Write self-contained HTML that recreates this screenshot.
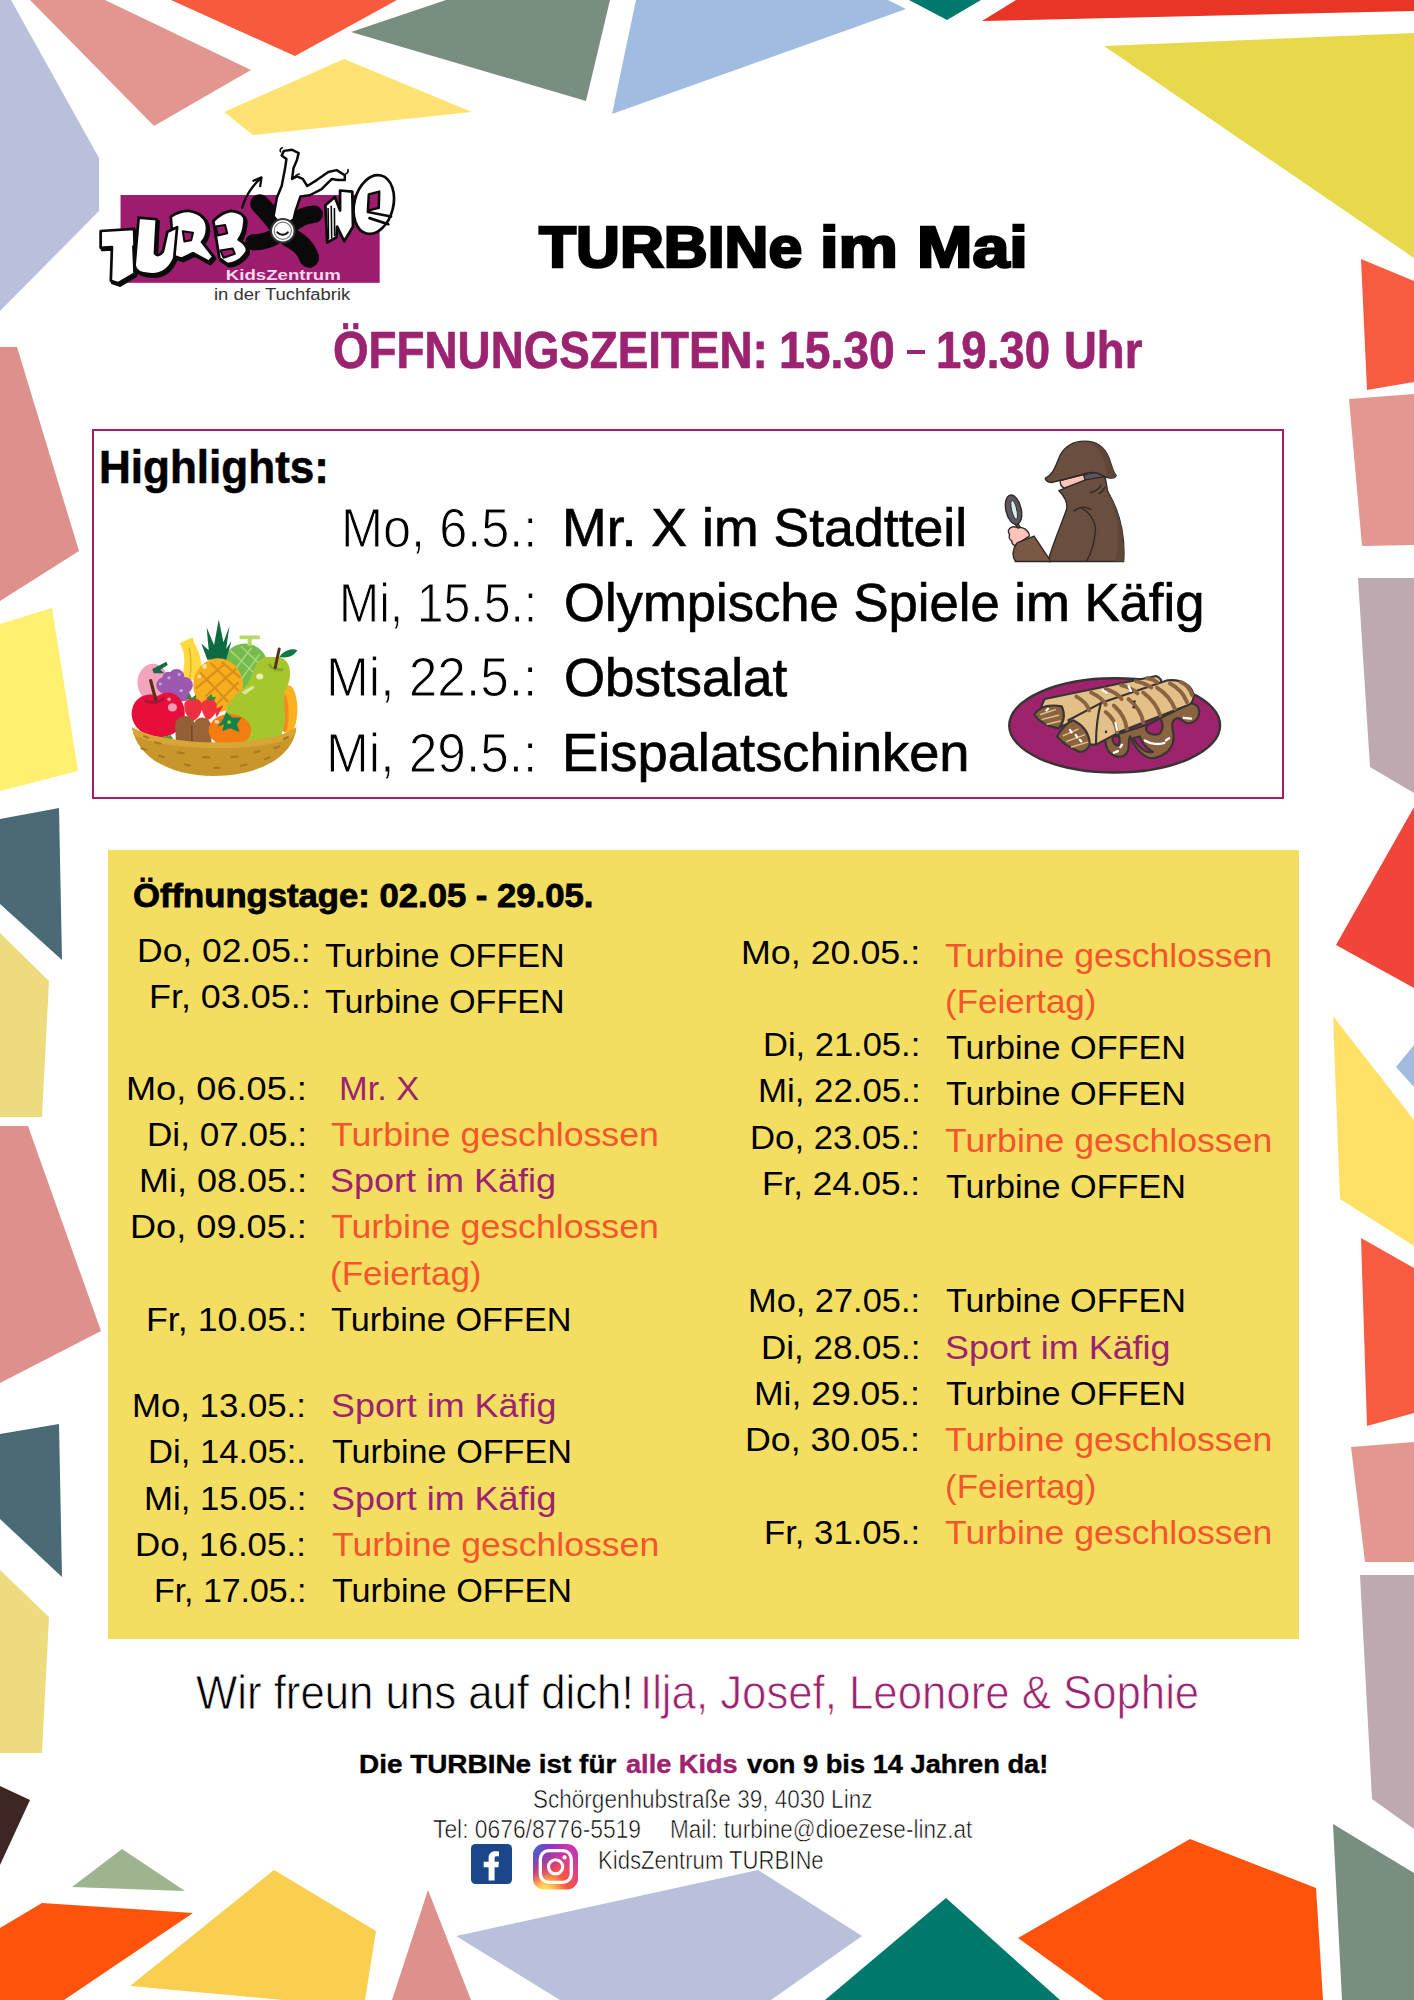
<!DOCTYPE html>
<html lang="de"><head><meta charset="utf-8">
<title>TURBINe im Mai</title>
<style>
html,body{margin:0;padding:0;background:#fff;}
body{width:1414px;height:2000px;position:relative;overflow:hidden;font-family:"Liberation Sans",sans-serif;}
.bg{position:absolute;left:0;top:0;}
.hbox{position:absolute;left:92px;top:429px;width:1188px;height:366px;border:2px solid #a01f6d;background:#fff;}
.ybox{position:absolute;left:108px;top:849.5px;width:1191px;height:789px;background:#f4de62;}
.t{position:absolute;white-space:nowrap;line-height:1;transform-origin:0 0;margin:0;padding:0;}
.ill{position:absolute;}
</style></head><body>
<svg class="bg" width="1414" height="2000" viewBox="0 0 1414 2000">
<polygon fill="#b8c0dc" points="0,0 11,0 99,158 99,211 0,311"/>
<polygon fill="#e29690" points="30,0 105,0 251,70 154,126"/>
<polygon fill="#f85a3e" points="171,0 397,0 295,56"/>
<polygon fill="#ffe272" points="344,59 472,112 253,135 224,112"/>
<polygon fill="#7a8e80" points="351,32 446,0 610,0 586,101"/>
<polygon fill="#a0bce0" points="636,0 888,0 906,9 612,114"/>
<polygon fill="#00796d" points="909,0 981,0 947,20"/>
<polygon fill="#e93525" points="982,21 1016,0 1414,0 1414,11"/>
<polygon fill="#e8d94c" points="1104,46 1414,33 1414,258"/>
<polygon fill="#f85c40" points="1361,259 1414,281 1414,382 1367,390"/>
<polygon fill="#e29891" points="1349,399 1414,394 1414,545 1362,546"/>
<polygon fill="#bcaab0" points="1358,578 1414,578 1414,793 1370,767"/>
<polygon fill="#f04538" points="1414,807 1414,988 1336,945"/>
<polygon fill="#a0bce0" points="1414,1045 1396,1067 1414,1087"/>
<polygon fill="#ffe168" points="1333,1016 1414,1120 1414,1246 1340,1199"/>
<polygon fill="#f85c40" points="1361,1238 1414,1268 1414,1413 1367,1426"/>
<polygon fill="#e29891" points="1351,1447 1414,1442 1414,1562 1365,1562"/>
<polygon fill="#bcaab0" points="1360,1575 1414,1575 1414,1829 1372,1799"/>
<polygon fill="#7a8e80" points="1333,1824 1414,1873 1414,2000 1342,2000"/>
<polygon fill="#ff530d" points="1018,1938 1190,1839 1316,1888 1323,2000 1104,2000"/>
<polygon fill="#00796d" points="946,1898 1060,2000 825,2000"/>
<polygon fill="#b8c0dc" points="456,1936 758,1870 862,1936 771,2000 560,2000"/>
<polygon fill="#de908c" points="428,1890 471,2000 392,2000"/>
<polygon fill="#facf50" points="274,1870 376,1931 365,2000 283,2000 130,1986"/>
<polygon fill="#ff530d" points="42,1903 193,1913 64,2000 0,2000 0,1928"/>
<polygon fill="#9eb48e" points="72,1887 122,1849 185,1891"/>
<polygon fill="#3e2723" points="0,1786 30,1800 0,1865"/>
<polygon fill="#ecdc7e" points="0,1570 49,1617 42,1753 0,1753"/>
<polygon fill="#4a6a75" points="0,1434 59,1424 62,1577 0,1519"/>
<polygon fill="#de908c" points="0,1126 28,1126 101,1331 0,1383"/>
<polygon fill="#ecdc7e" points="0,933 49,981 42,1117 0,1117"/>
<polygon fill="#4a6a75" points="0,819 59,808 62,960 0,904"/>
<polygon fill="#fff070" points="0,624 52,608 78,771 0,791"/>
<polygon fill="#de908c" points="0,347 17,347 79,551 0,601"/>
</svg>
<div class="hbox"></div>
<div class="ybox"></div>
<div style="position:absolute;left:906.9px;top:350.2px;width:17.8px;height:4.2px;background:#9b236f"></div>
<svg class="ill" style="left:90px;top:140px" width="320" height="170" viewBox="0 0 1414 751">
<rect x="135" y="243" width="1145" height="388" fill="#9d1c6e"/>
<!-- arrow -->
<path d="M672 300 C 690 240 720 200 752 172 M722 180 L758 165 L752 204" fill="none" stroke="#0a0a0a" stroke-width="10" stroke-linecap="round" stroke-linejoin="round"/>
<!-- propeller blades -->
<g fill="none" stroke="#0a0a0a" stroke-linecap="round" stroke-linejoin="round">
<path d="M835 385 C 810 345 785 320 750 282" stroke-width="84"/>
<path d="M830 420 C 790 445 760 452 722 452" stroke-width="72"/>
<path d="M880 430 C 925 450 955 480 968 520" stroke-width="88"/>
<path d="M885 375 C 920 345 950 330 990 328" stroke-width="78"/>
</g>
<!-- figure -->
<path d="M811 337 L826 254 L847 203 L862 125 L868 84 L847 68 L857 48 L893 43 L922 58 L914 89 L899 125 L893 172 L914 161 L940 172 L960 203 L1002 177 L1053 141 L1090 133 L1126 156 L1126 177 L1095 177 L1069 172 L1022 218 L971 244 L930 249 L909 311 L899 352 L850 380 Z" fill="#fff" stroke="#0a0a0a" stroke-width="11" stroke-linejoin="round"/>
<path d="M842 52 C 838 44 842 36 850 34 M1130 150 C 1138 146 1142 138 1140 130 M893 172 C 905 160 915 150 925 150" fill="none" stroke="#0a0a0a" stroke-width="7" stroke-linecap="round"/>
<!-- hub -->
<circle cx="852" cy="401" r="52" fill="#fff" stroke="#333" stroke-width="9"/>
<circle cx="852" cy="401" r="38" fill="none" stroke="#777" stroke-width="5"/>
<path d="M828 408 C 842 424 864 420 874 408" fill="none" stroke="#111" stroke-width="9" stroke-linecap="round"/>
<!-- TURB shadow -->
<g fill="#0a0a0a" stroke="#0a0a0a" stroke-width="14" stroke-linejoin="round" transform="translate(7,9)">
<path d="M47 402 L195 393 L197 468 L192 470 L197 590 L125 633 L92 622 L97 473 L47 476 Z"/>
<path d="M215 343 L295 350 L287 500 Q300 520 322 493 L342 405 L385 385 L372 523 Q340 600 262 593 Q200 590 197 553 Z"/>
<path d="M357 338 Q400 310 440 313 Q520 330 517 393 Q515 430 495 450 L545 515 L525 538 L455 500 L405 525 L370 513 Z"/>
<path d="M545 358 Q580 320 622 313 Q690 320 682 363 Q680 410 657 440 Q700 465 692 495 Q660 545 607 548 L572 523 Z"/>
</g>
<!-- TURB -->
<g fill="#fff" stroke="#0a0a0a" stroke-width="12" stroke-linejoin="round">
<path d="M545 358 Q580 320 622 313 Q690 320 682 363 Q680 410 657 440 Q700 465 692 495 Q660 545 607 548 L572 523 Z"/>
<path d="M357 338 Q400 310 440 313 Q520 330 517 393 Q515 430 495 450 L545 515 L525 538 L455 500 L405 525 L370 513 Z"/>
<path d="M215 343 L295 350 L287 500 Q300 520 322 493 L342 405 L385 385 L372 523 Q340 600 262 593 Q200 590 197 553 Z"/>
<path d="M47 402 L195 393 L197 468 L192 470 L197 590 L125 633 L92 622 L97 473 L47 476 Z"/>
</g>
<g fill="#9d1c6e" stroke="#0a0a0a" stroke-width="9" stroke-linejoin="round">
<path d="M410 403 L455 410 L447 443 L417 448 Z"/>
<path d="M555 382 L597 376 L606 412 L565 422 Z"/>
<path d="M576 488 L630 479 L640 503 L590 520 Z"/>
</g>
<!-- N e -->
<g fill="#fff" stroke="#0a0a0a" stroke-width="12" stroke-linejoin="round">
<ellipse cx="1254" cy="285" rx="86" ry="132" transform="rotate(14 1254 285)"/>
<path d="M1040 288 L1082 252 L1105 311 L1105 223 L1159 228 L1162 383 L1123 447 L1092 383 L1089 430 L1048 453 Z"/>
</g>
<path d="M1232 240 L1278 228 L1276 300 L1228 312 Z" fill="#9d1c6e" stroke="#0a0a0a" stroke-width="11" stroke-linejoin="round"/>
<path d="M1228 318 L1330 338 M1235 345 L1318 372" fill="none" stroke="#0a0a0a" stroke-width="12" stroke-linecap="round"/>
<path d="M1052 300 L1054 440 M1066 290 L1068 435 M1080 300 L1081 425" stroke="#0a0a0a" stroke-width="7"/>
<text x="600" y="617" font-family="Liberation Sans, sans-serif" font-weight="bold" font-size="66" fill="#f7d9ec" textLength="508" lengthAdjust="spacingAndGlyphs">KidsZentrum</text>
<text x="548" y="705" font-family="Liberation Sans, sans-serif" font-size="70" fill="#333" textLength="602" lengthAdjust="spacingAndGlyphs">in der Tuchfabrik</text>
</svg>

<svg class="ill" style="left:120px;top:610px" width="190" height="180" viewBox="0 0 1414 1340">
<!-- peach -->
<ellipse cx="245" cy="540" rx="115" ry="140" fill="#f3a3bb"/>
<path d="M240 440 L345 385 L355 410 L300 445 L330 470 L250 470 Z" fill="#1a6a48"/>
<!-- banana -->
<path d="M445 245 L540 205 L555 250 C 600 330 620 420 600 520 L450 520 C 490 420 490 330 445 245 Z" fill="#ffd93f"/>
<path d="M515 280 C 530 360 530 440 520 510" stroke="#e8b020" stroke-width="10" fill="none"/>
<!-- melon -->
<circle cx="930" cy="420" r="170" fill="#76bb4d"/>
<path d="M890 190 h150 v28 h-60 v50 h-30 v-50 h-60 z" fill="#b5d86a"/>
<g stroke="#a6d67a" stroke-width="12" fill="none"><path d="M820 300 L1010 480 M900 270 L1060 420 M980 280 L850 450 M1040 330 L900 520"/></g>
<!-- pineapple crown -->
<path d="M735 70 L770 240 L815 120 L790 290 L830 230 L790 370 L650 370 L605 250 L660 300 L645 130 L700 260 Z" fill="#0d6a41"/>
<!-- pineapple body -->
<ellipse cx="730" cy="560" rx="185" ry="200" fill="#f8ae1f"/>
<g stroke="#d9901a" stroke-width="16" fill="none" stroke-linecap="round"><path d="M600 470 L800 680 M680 400 L880 600 M760 390 L890 500 M860 440 L640 640 M780 400 L570 580 M880 540 L720 700"/></g>
<circle cx="630" cy="420" r="18" fill="#fde3a0"/><circle cx="590" cy="495" r="14" fill="#fde3a0"/>
<!-- orange slice right -->
<ellipse cx="1255" cy="740" rx="65" ry="180" fill="#fbb01e"/>
<ellipse cx="1225" cy="770" rx="30" ry="140" fill="#f58a1f"/>
<!-- grapes -->
<g fill="#9b59b0"><circle cx="330" cy="560" r="60"/><circle cx="420" cy="500" r="60"/><circle cx="480" cy="560" r="62"/><circle cx="400" cy="600" r="60"/><circle cx="470" cy="630" r="50"/><circle cx="360" cy="505" r="45"/></g>
<g fill="#c9a3dc"><circle cx="365" cy="505" r="12"/><circle cx="440" cy="480" r="12"/><circle cx="300" cy="550" r="11"/><circle cx="455" cy="600" r="12"/></g>
<!-- pear -->
<path d="M1180 350 C 1290 370 1280 520 1230 600 C 1200 700 1260 800 1200 930 C 1150 1010 960 1010 860 960 C 740 880 760 700 900 600 C 1000 530 980 380 1080 350 Z" fill="#a5c62c"/>
<path d="M1110 400 C 1130 450 1190 450 1215 440" stroke="#86aa22" stroke-width="22" fill="none"/>
<path d="M1155 430 L1185 290" stroke="#5a2d1a" stroke-width="22" stroke-linecap="round"/>
<path d="M1185 350 C 1230 290 1290 285 1320 300 C 1290 350 1240 360 1185 350 Z" fill="#0d7a45"/>
<ellipse cx="1040" cy="495" rx="26" ry="22" fill="#e6f0b0"/><path d="M905 610 L990 560 L1000 580 L930 630 Z" fill="#d4e79a"/>
<!-- strawberries -->
<path d="M480 690 C 520 640 590 650 610 700 C 620 760 580 810 540 830 C 500 800 470 750 480 690 Z" fill="#ee2f3f"/>
<path d="M610 690 C 650 640 720 660 720 720 C 715 780 680 810 650 820 C 620 790 600 740 610 690 Z" fill="#f0323f"/>
<path d="M700 740 L770 710 L720 800 Z" fill="#ee2f3f"/>
<path d="M490 660 L520 625 L535 655 L565 630 L570 670 Z M640 660 L680 625 L690 650 L715 645 L700 675 Z" fill="#2e8a3c"/>
<!-- apple -->
<path d="M280 640 C 400 560 500 680 480 800 C 460 920 340 960 260 940 C 140 930 70 830 90 740 C 110 640 210 610 280 640 Z" fill="#e60f3a"/>
<path d="M185 675 C 240 700 290 690 330 655" stroke="#a81438" stroke-width="20" fill="none"/>
<path d="M265 665 L228 525" stroke="#5a2d1a" stroke-width="24" stroke-linecap="round"/>
<ellipse cx="390" cy="725" rx="34" ry="30" fill="#f59ab5"/><circle cx="365" cy="665" r="13" fill="#f59ab5"/>
<!-- leaves bottom -->
<path d="M300 950 L380 930 L400 970 L320 975 Z" fill="#5b9a38"/>
<!-- kiwis -->
<path d="M410 850 C 430 770 540 770 555 850 L550 990 L415 970 Z" fill="#935f36"/>
<path d="M540 870 C 560 780 660 780 680 860 L680 1000 L545 1000 Z" fill="#996538"/>
<path d="M535 860 L535 990" stroke="#6d4324" stroke-width="10"/>
<!-- persimmon -->
<ellipse cx="818" cy="895" rx="158" ry="120" fill="#f47d12"/>
<path d="M790 760 L835 800 L905 800 L870 850 L890 910 L820 880 L760 900 L775 850 L725 870 L770 810 Z" fill="#16814a"/>
<circle cx="812" cy="835" r="14" fill="#9ccb3c"/><ellipse cx="720" cy="832" rx="18" ry="14" fill="#fbd5a8"/>
<!-- basket -->
<path d="M90 872 C 300 1010 1100 1040 1312 872 C 1300 1080 1050 1235 700 1235 C 350 1235 120 1080 90 872 Z" fill="#c8962a"/>
<path d="M90 872 C 300 1010 1100 1040 1312 872 C 1310 900 1305 920 1300 935 C 1090 1070 320 1050 100 930 Z" fill="#d7a636"/>
<g stroke="#a97a1e" stroke-width="16" stroke-linecap="round"><path d="M160 1030 l35 10 M260 985 l40 10 M290 1085 l35 12 M430 1060 l45 6 M480 1150 l40 8 M620 1095 l45 2 M700 1175 l40 0 M830 1095 l45 -4 M900 1160 l40 -8 M1000 1060 l40 -10 M1080 1110 l35 -14 M1150 1030 l35 -14 M1220 960 l30 -14 M180 940 l30 12"/></g>
</svg>

<svg class="ill" style="left:990px;top:430px" width="150" height="140" viewBox="0 0 1414 1320">
<g stroke="#2f2a28" stroke-width="13" stroke-linejoin="round" stroke-linecap="round">
<!-- coat -->
<path d="M650 572 C 700 620 735 690 722 745 C 690 850 600 1050 545 1240 L1260 1240 C 1275 1000 1230 780 1110 580 L1085 440 L900 430 L690 555 Z" fill="#6b4f3e"/>
<path d="M1085 470 C 1100 560 1190 760 1200 900 C 1215 1050 1200 1150 1180 1240 L1260 1240 C 1275 1000 1230 780 1110 580 Z" fill="#5f4636" stroke="none"/>
<!-- face -->
<path d="M662 478 L885 420 L900 470 L700 548 C 668 532 660 505 662 478 Z" fill="#ffc3ba"/>
<path d="M882 425 L1000 400 L1085 440 L897 470 Z" fill="#5b5660"/>
<!-- hat -->
<path d="M520 455 C 600 420 620 330 660 240 C 720 130 820 105 890 105 C 1000 105 1080 160 1120 260 C 1150 340 1160 400 1190 430 C 1180 458 1140 462 1080 440 C 1020 398 960 392 900 410 C 800 440 680 470 580 495 C 545 490 525 478 520 455 Z" fill="#6b4f3e"/>
<path d="M930 125 C 1040 150 1090 300 1110 440 L1140 455 C 1165 455 1182 448 1190 430 C 1160 400 1150 340 1120 260 C 1085 170 1020 120 930 125 Z" fill="#5f4636" stroke="none"/>
<!-- folds -->
<path d="M945 592 C 990 580 1030 550 1048 520 M1030 598 C 1055 585 1075 560 1082 540 M790 765 C 840 725 900 720 950 750 M870 742 C 960 790 1010 900 990 980 C 980 1080 950 1170 910 1235" fill="none"/>
<!-- hand -->
<path d="M205 915 C 170 930 165 960 185 985 C 175 1010 185 1035 205 1045 C 205 1070 215 1085 235 1090 L370 1000 C 375 970 340 930 300 920 C 270 925 240 905 205 915 Z" fill="#ffc3ba"/>
<!-- sleeve -->
<path d="M240 1240 L575 1240 L415 1000 L255 1065 C 210 1120 205 1190 240 1240 Z" fill="#7a5942"/>
<!-- magnifier -->
<path d="M252 870 L285 915 L262 925 L232 880 Z" fill="#5b5660"/>
<ellipse cx="222" cy="752" rx="72" ry="142" transform="rotate(-13 222 752)" fill="#5b5660"/>
<ellipse cx="228" cy="752" rx="24" ry="92" transform="rotate(-13 228 752)" fill="#d6eeee" stroke-width="8"/>
</g>
</svg>

<svg class="ill" style="left:1000px;top:660px" width="230" height="130" viewBox="0 0 1414 799">
<ellipse cx="705" cy="402" rx="648" ry="290" fill="#9d246c" stroke="#383434" stroke-width="15"/>
<g stroke="#383434" stroke-width="13" stroke-linejoin="round" stroke-linecap="round">
<!-- sauce drips -->
<path d="M650 480 C 640 560 700 610 760 590 C 810 560 780 500 800 470 C 840 560 900 620 960 600 C 1060 570 1080 500 1060 420 C 1050 370 1090 340 1120 370 C 1160 410 1220 380 1225 320 C 1225 280 1190 260 1160 270 L900 400 Z" fill="#8a6341"/>
<path d="M905 400 C 880 440 930 470 980 455 C 1010 420 1000 380 985 360 Z" fill="#9d246c"/>
<path d="M820 480 C 850 540 900 575 940 565 C 900 540 870 510 860 470 Z" fill="#9d246c"/>
<path d="M690 470 C 690 510 710 530 730 525 C 740 500 735 480 730 465 Z" fill="#9d246c"/>
<!-- back crepe -->
<path d="M275 240 L960 98 C 990 110 1000 130 985 150 L620 270 L400 400 C 340 420 300 410 275 390 C 240 330 250 280 275 240 Z" fill="#e4c089"/>
<path d="M210 335 C 240 290 300 270 380 285 C 400 330 395 380 360 420 C 300 410 240 380 210 335 Z" fill="#8a6341"/>
<!-- front crepe -->
<path d="M620 265 L1030 125 C 1120 115 1190 160 1190 230 C 1185 260 1170 275 1150 280 L740 440 L590 520 C 540 470 560 330 620 265 Z" fill="#e4c089"/>
<path d="M420 370 L620 265 C 600 340 590 430 590 520 L545 520 C 500 480 450 420 420 370 Z" fill="#e4c089"/>
<path d="M350 470 C 380 420 420 380 450 370 C 510 400 550 450 552 520 C 540 550 520 565 490 565 C 430 540 380 510 350 470 Z" fill="#8a6341"/>
</g>
<!-- stripes -->
<g stroke="#8a6341" stroke-width="24" fill="none" stroke-linecap="round">
<path d="M470 225 C 515 250 540 280 548 310 M560 200 C 610 225 640 250 650 275 M650 178 C 700 195 730 215 748 240 M745 155 C 795 168 825 185 845 205 M835 130 C 875 138 905 152 930 168 M905 112 C 930 116 950 124 965 135"/>
<path d="M650 320 C 695 355 715 400 720 445 M700 280 C 755 330 775 385 780 425 M790 240 C 850 290 875 340 880 385 M880 200 C 940 245 970 290 985 340 M965 170 C 1020 205 1055 250 1075 300 M1045 145 C 1095 170 1130 210 1150 260 M1110 135 C 1145 150 1170 180 1180 215"/>
</g>
<g stroke="#e4c089" stroke-width="9" fill="none" stroke-linecap="round">
<path d="M250 335 L340 305 M260 365 L360 340 M290 395 L370 375 M390 465 L480 425 M410 500 L520 460 M440 535 L540 505"/>
</g>
<g stroke="#fff" stroke-width="14" stroke-linecap="round" fill="none">
<path d="M630 185 L655 200 M790 160 L805 190 M710 385 L720 430 M1130 355 L1175 360 M890 495 C 930 520 980 520 1010 510 M1020 495 L1040 480 M700 570 L725 560 M740 535 L750 520 M430 430 L440 445 M465 460 L475 475 M490 490 L500 500 M285 310 L295 300"/>
</g>
<g fill="#383434"><circle cx="827" cy="255" r="8"/><circle cx="822" cy="290" r="8"/><circle cx="652" cy="442" r="8"/></g>
</svg>

<svg class="ill" style="left:471px;top:1844px" width="41" height="40" viewBox="0 0 41 40">
<rect width="41" height="40" rx="4.5" fill="#1a4789"/>
<path fill="#fff" d="M17.6 36.4V23.3H12.7V17.8H17.6V14C17.6 9.5 20.3 7.2 24.3 7.2C26 7.2 27.4 7.35 28 7.4V12.3H25.5C23.9 12.3 23.6 13.1 23.6 14.3V17.8H28L27.3 23.3H23.6V36.4Z"/>
</svg>
<svg class="ill" style="left:533px;top:1844px" width="45" height="45.5" viewBox="0 0 45 45.5">
<defs>
<radialGradient id="ig1" cx="0.27" cy="1.05" r="1.0"><stop offset="0" stop-color="#ffdd55"/><stop offset="0.1" stop-color="#ffdd55"/><stop offset="0.5" stop-color="#ff543e"/><stop offset="1" stop-color="#c837ab"/></radialGradient>
<radialGradient id="ig2" cx="-0.1" cy="0.05" r="0.85"><stop offset="0" stop-color="#3771c8"/><stop offset="0.13" stop-color="#3771c8"/><stop offset="1" stop-color="#6600ff" stop-opacity="0"/></radialGradient>
</defs>
<rect width="45" height="45.5" rx="11" fill="url(#ig1)"/>
<rect width="45" height="45.5" rx="11" fill="url(#ig2)"/>
<rect x="7.3" y="6.7" width="31" height="31.6" rx="8.5" fill="none" stroke="#fff" stroke-width="3.3"/>
<circle cx="22.6" cy="22.8" r="7.1" fill="none" stroke="#fff" stroke-width="3.1"/>
<circle cx="31.5" cy="13.4" r="2.1" fill="#fff"/>
</svg>

<div class="t" id="t0" style="left:538.81px;top:218.4px;font-size:58px;font-weight:bold;color:#000;-webkit-text-stroke:2.5px #000;transform:scaleX(1.0472);">TURBINe</div>
<div class="t" id="t1" style="left:820.33px;top:218.4px;font-size:58px;font-weight:bold;color:#000;-webkit-text-stroke:2.5px #000;transform:scaleX(1.1515);">im</div>
<div class="t" id="t2" style="left:916.99px;top:218.4px;font-size:58px;font-weight:bold;color:#000;-webkit-text-stroke:2.5px #000;transform:scaleX(1.1464);">Mai</div>
<div class="t" id="t3" style="left:332.93px;top:324.9px;font-size:51.5px;font-weight:bold;color:#9b236f;-webkit-text-stroke:0.7px #9b236f;transform:scaleX(0.8888);">ÖFFNUNGSZEITEN:</div>
<div class="t" id="t4" style="left:779.22px;top:324.9px;font-size:51.5px;font-weight:bold;color:#9b236f;-webkit-text-stroke:0.7px #9b236f;transform:scaleX(0.8981);">15.30</div>
<div class="t" id="t5" style="left:936.06px;top:324.9px;font-size:51.5px;font-weight:bold;color:#9b236f;-webkit-text-stroke:0.7px #9b236f;transform:scaleX(0.8845);">19.30</div>
<div class="t" id="t6" style="left:1063.76px;top:324.9px;font-size:51.5px;font-weight:bold;color:#9b236f;-webkit-text-stroke:0.7px #9b236f;transform:scaleX(0.8836);">Uhr</div>
<div class="t" id="t7" style="left:99.17px;top:443.4px;font-size:47px;font-weight:bold;color:#000;-webkit-text-stroke:0.6px #000;transform:scaleX(0.9371);">Highlights:</div>
<div class="t" id="t8" style="left:340.80px;top:499.7px;font-size:56px;color:#000;-webkit-text-stroke:1.1px #fff;transform:scaleX(0.9010);">Mo, 6.5.:</div>
<div class="t" id="t9" style="left:562.33px;top:501.1px;font-size:53.3px;color:#000;-webkit-text-stroke:0.7px #000;transform:scaleX(1.0059);">Mr. X im Stadtteil</div>
<div class="t" id="t10" style="left:338.68px;top:574.6px;font-size:56px;color:#000;-webkit-text-stroke:1.1px #fff;transform:scaleX(0.8606);">Mi, 15.5.:</div>
<div class="t" id="t11" style="left:564.37px;top:576.0px;font-size:53.3px;color:#000;-webkit-text-stroke:0.7px #000;transform:scaleX(0.9872);">Olympische Spiele im Käfig</div>
<div class="t" id="t12" style="left:325.82px;top:649.1px;font-size:56px;color:#000;-webkit-text-stroke:1.1px #fff;transform:scaleX(0.9177);">Mi, 22.5.:</div>
<div class="t" id="t13" style="left:564.36px;top:650.5px;font-size:53.3px;color:#000;-webkit-text-stroke:0.7px #000;transform:scaleX(0.9910);">Obstsalat</div>
<div class="t" id="t14" style="left:325.82px;top:724.6px;font-size:56px;color:#000;-webkit-text-stroke:1.1px #fff;transform:scaleX(0.9177);">Mi, 29.5.:</div>
<div class="t" id="t15" style="left:562.28px;top:726.0px;font-size:53.3px;color:#000;-webkit-text-stroke:0.7px #000;transform:scaleX(1.0190);">Eispalatschinken</div>
<div class="t" id="t16" style="left:132.76px;top:880.4px;font-size:32.7px;font-weight:bold;color:#000;-webkit-text-stroke:0.8px #000;transform:scaleX(1.0605);">Öffnungstage: 02.05 - 29.05.</div>
<div class="t" id="t17" style="left:136.57px;top:933.7px;font-size:33.4px;color:#000;transform:scaleX(1.0630);">Do, 02.05.:</div>
<div class="t" id="t18" style="left:324.80px;top:938.7px;font-size:33.4px;color:#000;transform:scaleX(1.0229);">Turbine OFFEN</div>
<div class="t" id="t19" style="left:148.65px;top:979.7px;font-size:33.4px;color:#000;transform:scaleX(1.0749);">Fr, 03.05.:</div>
<div class="t" id="t20" style="left:324.80px;top:985.1px;font-size:33.4px;color:#000;transform:scaleX(1.0229);">Turbine OFFEN</div>
<div class="t" id="t21" style="left:125.84px;top:1071.6px;font-size:33.4px;color:#000;transform:scaleX(1.0825);">Mo, 06.05.:</div>
<div class="t" id="t22" style="left:338.94px;top:1071.6px;font-size:33.4px;color:#9b236f;transform:scaleX(1.0298);">Mr. X</div>
<div class="t" id="t23" style="left:146.50px;top:1117.8px;font-size:33.4px;color:#000;transform:scaleX(1.0519);">Di, 07.05.:</div>
<div class="t" id="t24" style="left:330.80px;top:1117.8px;font-size:33.4px;color:#f4552a;transform:scaleX(1.0684);">Turbine geschlossen</div>
<div class="t" id="t25" style="left:138.64px;top:1164.1px;font-size:33.4px;color:#000;transform:scaleX(1.0777);">Mi, 08.05.:</div>
<div class="t" id="t26" style="left:330.42px;top:1164.1px;font-size:33.4px;color:#9b236f;transform:scaleX(1.0781);">Sport im Käfig</div>
<div class="t" id="t27" style="left:129.83px;top:1210.3px;font-size:33.4px;color:#000;transform:scaleX(1.0825);">Do, 09.05.:</div>
<div class="t" id="t28" style="left:330.80px;top:1210.3px;font-size:33.4px;color:#f4552a;transform:scaleX(1.0684);">Turbine geschlossen</div>
<div class="t" id="t29" style="left:330.41px;top:1256.6px;font-size:33.4px;color:#f4552a;transform:scaleX(1.0465);">(Feiertag)</div>
<div class="t" id="t30" style="left:145.66px;top:1302.9px;font-size:33.4px;color:#000;transform:scaleX(1.0708);">Fr, 10.05.:</div>
<div class="t" id="t31" style="left:331.00px;top:1302.9px;font-size:33.4px;color:#000;transform:scaleX(1.0259);">Turbine OFFEN</div>
<div class="t" id="t32" style="left:132.32px;top:1388.8px;font-size:33.4px;color:#000;transform:scaleX(1.0407);">Mo, 13.05.:</div>
<div class="t" id="t33" style="left:331.13px;top:1388.8px;font-size:33.4px;color:#9b236f;transform:scaleX(1.0747);">Sport im Käfig</div>
<div class="t" id="t34" style="left:148.22px;top:1435.3px;font-size:33.4px;color:#000;transform:scaleX(1.0377);">Di, 14.05:.</div>
<div class="t" id="t35" style="left:331.50px;top:1435.3px;font-size:33.4px;color:#000;transform:scaleX(1.0237);">Turbine OFFEN</div>
<div class="t" id="t36" style="left:143.82px;top:1481.6px;font-size:33.4px;color:#000;transform:scaleX(1.0414);">Mi, 15.05.:</div>
<div class="t" id="t37" style="left:331.13px;top:1481.6px;font-size:33.4px;color:#9b236f;transform:scaleX(1.0747);">Sport im Käfig</div>
<div class="t" id="t38" style="left:135.31px;top:1527.8px;font-size:33.4px;color:#000;transform:scaleX(1.0461);">Do, 16.05.:</div>
<div class="t" id="t39" style="left:331.50px;top:1527.8px;font-size:33.4px;color:#f4552a;transform:scaleX(1.0662);">Turbine geschlossen</div>
<div class="t" id="t40" style="left:153.57px;top:1574.3px;font-size:33.4px;color:#000;transform:scaleX(1.0146);">Fr, 17.05.:</div>
<div class="t" id="t41" style="left:331.50px;top:1574.3px;font-size:33.4px;color:#000;transform:scaleX(1.0237);">Turbine OFFEN</div>
<div class="t" id="t42" style="left:741.05px;top:935.6px;font-size:33.4px;color:#000;transform:scaleX(1.0727);">Mo, 20.05.:</div>
<div class="t" id="t43" style="left:945.40px;top:938.5px;font-size:33.4px;color:#f4552a;transform:scaleX(1.0665);">Turbine geschlossen</div>
<div class="t" id="t44" style="left:945.41px;top:984.6px;font-size:33.4px;color:#f4552a;transform:scaleX(1.0458);">(Feiertag)</div>
<div class="t" id="t45" style="left:762.93px;top:1027.9px;font-size:33.4px;color:#000;transform:scaleX(1.0330);">Di, 21.05.:</div>
<div class="t" id="t46" style="left:945.60px;top:1030.8px;font-size:33.4px;color:#000;transform:scaleX(1.0233);">Turbine OFFEN</div>
<div class="t" id="t47" style="left:757.61px;top:1074.2px;font-size:33.4px;color:#000;transform:scaleX(1.0427);">Mi, 22.05.:</div>
<div class="t" id="t48" style="left:945.60px;top:1076.8px;font-size:33.4px;color:#000;transform:scaleX(1.0233);">Turbine OFFEN</div>
<div class="t" id="t49" style="left:750.22px;top:1120.9px;font-size:33.4px;color:#000;transform:scaleX(1.0404);">Do, 23.05.:</div>
<div class="t" id="t50" style="left:945.40px;top:1123.5px;font-size:33.4px;color:#f4552a;transform:scaleX(1.0665);">Turbine geschlossen</div>
<div class="t" id="t51" style="left:762.10px;top:1167.1px;font-size:33.4px;color:#000;transform:scaleX(1.0516);">Fr, 24.05.:</div>
<div class="t" id="t52" style="left:945.60px;top:1169.8px;font-size:33.4px;color:#000;transform:scaleX(1.0233);">Turbine OFFEN</div>
<div class="t" id="t53" style="left:748.14px;top:1284.1px;font-size:33.4px;color:#000;transform:scaleX(1.0296);">Mo, 27.05.:</div>
<div class="t" id="t54" style="left:945.60px;top:1284.1px;font-size:33.4px;color:#000;transform:scaleX(1.0233);">Turbine OFFEN</div>
<div class="t" id="t55" style="left:760.81px;top:1330.6px;font-size:33.4px;color:#000;transform:scaleX(1.0472);">Di, 28.05.:</div>
<div class="t" id="t56" style="left:945.42px;top:1330.6px;font-size:33.4px;color:#9b236f;transform:scaleX(1.0756);">Sport im Käfig</div>
<div class="t" id="t57" style="left:754.37px;top:1376.9px;font-size:33.4px;color:#000;transform:scaleX(1.0638);">Mi, 29.05.:</div>
<div class="t" id="t58" style="left:945.60px;top:1376.9px;font-size:33.4px;color:#000;transform:scaleX(1.0233);">Turbine OFFEN</div>
<div class="t" id="t59" style="left:745.26px;top:1423.2px;font-size:33.4px;color:#000;transform:scaleX(1.0712);">Do, 30.05.:</div>
<div class="t" id="t60" style="left:945.40px;top:1423.2px;font-size:33.4px;color:#f4552a;transform:scaleX(1.0665);">Turbine geschlossen</div>
<div class="t" id="t61" style="left:945.41px;top:1469.7px;font-size:33.4px;color:#f4552a;transform:scaleX(1.0458);">(Feiertag)</div>
<div class="t" id="t62" style="left:764.02px;top:1515.9px;font-size:33.4px;color:#000;transform:scaleX(1.0386);">Fr, 31.05.:</div>
<div class="t" id="t63" style="left:945.40px;top:1515.9px;font-size:33.4px;color:#f4552a;transform:scaleX(1.0665);">Turbine geschlossen</div>
<div class="t" id="t64" style="left:196.13px;top:1669.3px;font-size:47.6px;color:#000;-webkit-text-stroke:0.8px #fff;transform:scaleX(0.9189);">Wir freun uns auf dich!</div>
<div class="t" id="t65" style="left:640.06px;top:1669.3px;font-size:47.6px;color:#9b236f;-webkit-text-stroke:0.8px #fff;transform:scaleX(0.9189);">Ilja, Josef, Leonore &amp; Sophie</div>
<div class="t" id="t66" style="left:358.86px;top:1751.3px;font-size:26.5px;font-weight:bold;color:#000;-webkit-text-stroke:0.4px;transform:scaleX(1.0526);">Die TURBINe ist für</div>
<div class="t" id="t67" style="left:625.70px;top:1751.3px;font-size:26.5px;font-weight:bold;color:#9b236f;-webkit-text-stroke:0.4px;transform:scaleX(1.0244);">alle Kids</div>
<div class="t" id="t68" style="left:747.21px;top:1751.3px;font-size:26.5px;font-weight:bold;color:#000;-webkit-text-stroke:0.4px;transform:scaleX(1.0279);">von 9 bis 14 Jahren da!</div>
<div class="t" id="t69" style="left:532.62px;top:1787.4px;font-size:24.9px;color:#000;-webkit-text-stroke:0.6px #fff;transform:scaleX(0.9052);">Schörgenhubstraße 39, 4030 Linz</div>
<div class="t" id="t70" style="left:433.23px;top:1817.2px;font-size:24.9px;color:#000;-webkit-text-stroke:0.6px #fff;transform:scaleX(0.9165);">Tel: 0676/8776-5519</div>
<div class="t" id="t71" style="left:669.92px;top:1817.2px;font-size:24.9px;color:#000;-webkit-text-stroke:0.6px #fff;transform:scaleX(0.9056);">Mail: turbine@dioezese-linz.at</div>
<div class="t" id="t72" style="left:597.96px;top:1847.8px;font-size:24.9px;color:#000;-webkit-text-stroke:0.6px #fff;transform:scaleX(0.8883);">KidsZentrum TURBINe</div>
</body></html>
